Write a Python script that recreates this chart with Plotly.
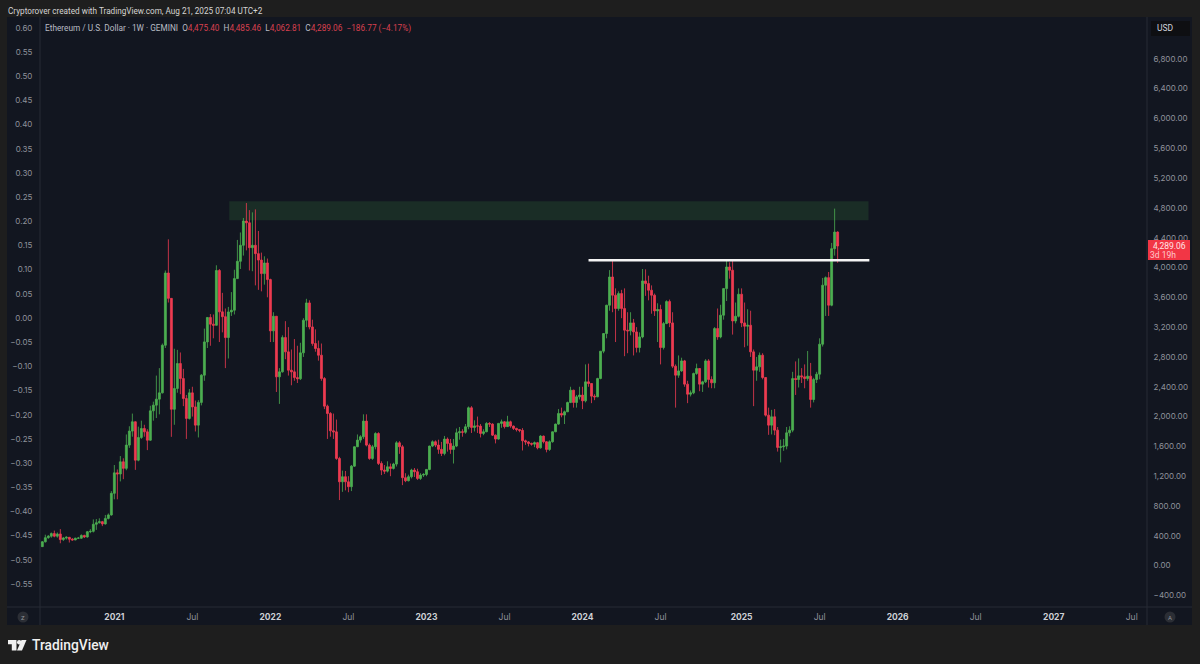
import pandas as pd
import plotly.graph_objects as go

W, H = 1200, 664

opens = [255,320,375,395,430,395,425,350,370,380,
355,345,368,368,405,385,455,460,555,575,
590,560,634,680,970,1245,1230,1393,1305,1617,
1805,1930,1415,1720,1840,1795,1683,2077,2153,2234,
2318,2957,3926,3586,2098,2377,2712,2510,2242,1975,
2318,2130,1885,2190,2555,3002,3330,3240,3225,3960,
3405,3340,3060,3404,3427,3851,4083,4298,4624,4600,
4266,4298,4186,4100,3918,4061,3838,3150,3346,2533,
2600,3060,2868,2622,2600,2523,2507,2855,3292,3525,
3203,2980,2913,2823,2510,2140,2041,1809,1795,1438,
1125,1193,1125,1059,1335,1595,1684,1729,1939,1617,
1438,1595,1773,1371,1282,1268,1326,1304,1362,1648,
1595,1180,1139,1193,1282,1260,1170,1215,1224,1291,
1604,1662,1617,1560,1505,1698,1640,1559,1604,1783,
1796,1790,1863,2118,1854,1875,1872,1774,1796,1908,
1899,1751,1698,1908,1930,1865,1930,1872,1841,1825,
1815,1675,1660,1640,1630,1650,1580,1738,1662,1559,
1662,1796,1899,2042,2020,2064,2189,2354,2189,2265,
2288,2211,2466,2444,2274,2265,2511,2877,3114,3494,
3873,3628,3449,3650,3449,3159,3150,3257,3136,2926,
3069,3820,3784,3695,3628,3418,3436,2926,3248,3543,
3257,2676,2555,2613,2747,2435,2300,2318,2578,2645,
2435,2466,2747,2497,2453,3181,3069,3360,3717,4007,
3963,3283,3346,3641,3257,3212,3225,2868,2622,2667,
2823,2524,2019,1885,1997,1818,1586,1595,1604,1782,
1818,2510,2497,2546,2533,2510,2542,2229,2497,2569,
2971,3762,3864,3494,4253,4475.40]

highs = [330,415,410,445,470,445,490,385,395,385,
370,375,385,420,415,465,490,620,625,635,
600,680,700,1000,1350,1290,1470,1440,1760,1870,
2040,1935,1865,1945,1890,1830,2145,2200,2550,2650,
2980,3960,4378,3590,2910,2895,2860,2640,2290,2370,
2400,2215,2220,2570,3180,3335,3375,3370,4030,3980,
3660,3450,3471,3670,3970,4370,4470,4665,4865,4770,
4740,4780,4490,4200,4150,4120,3850,3400,3350,2650,
3090,3280,3200,2900,3040,2950,2990,3320,3580,3560,
3300,3170,3020,2980,2530,2160,2060,2040,1960,1460,
1275,1270,1200,1350,1600,1760,1750,2030,2030,1640,
1620,1790,1790,1400,1350,1400,1370,1380,1670,1670,
1620,1240,1220,1300,1310,1300,1240,1240,1295,1610,
1680,1680,1690,1660,1740,1720,1700,1700,1840,1860,
1830,1900,2135,2140,1950,2000,1900,1830,1925,1925,
1910,1760,1915,1960,1940,2010,1945,1880,1850,1830,
1845,1690,1670,1650,1665,1660,1750,1745,1670,1680,
1800,1905,2100,2120,2080,2200,2400,2360,2290,2400,
2400,2700,2710,2450,2300,2520,2880,3120,3500,3965,
4090,3720,3680,3700,3720,3400,3400,3310,3200,3130,
3980,3975,3890,3760,3650,3520,3500,3270,3560,3570,
3400,2700,2820,2790,2760,2480,2350,2590,2710,2650,
2480,2770,2770,2540,3200,3450,3500,3720,4100,4070,
4100,3530,3720,3720,3530,3440,3420,2900,2800,2860,
2850,2530,2120,2090,2100,1860,1690,1700,1860,1870,
2600,2740,2780,2650,2700,2880,2720,2520,2600,3050,
3860,3880,3940,4330,4790,4485.46]

lows = [250,310,360,375,380,375,300,330,350,310,
335,340,362,360,370,375,435,445,480,565,
530,550,620,670,890,890,1130,1160,1280,1580,
1730,1285,1400,1700,1730,1550,1675,1945,1980,2030,
2310,2920,3530,1728,1890,2320,2300,2140,1700,1960,
2000,1800,1720,2150,2480,2920,2950,3050,3220,3000,
3130,2650,2779,3350,3370,3880,3980,4160,4230,3960,
3950,3760,3700,3680,3770,3600,3000,3000,2330,2170,
2590,2770,2550,2420,2480,2450,2490,2800,3200,3170,
2950,2870,2750,2480,2100,1700,1730,1700,1420,880,
990,1010,985,1000,1325,1590,1650,1700,1600,1420,
1420,1560,1350,1215,1230,1250,1200,1290,1330,1500,
1080,1120,1130,1170,1190,1150,1150,1190,1200,1280,
1590,1590,1500,1470,1480,1530,1500,1370,1590,1690,
1730,1770,1830,1780,1800,1780,1720,1750,1790,1860,
1740,1640,1690,1850,1840,1860,1850,1820,1800,1790,
1545,1620,1600,1610,1590,1560,1570,1640,1520,1540,
1650,1790,1890,1990,1900,2060,2180,2120,2120,2230,
2100,2190,2400,2180,2220,2260,2500,2850,3050,3420,
3400,3000,3420,3320,2810,2850,3090,2820,2860,2860,
3050,3620,3560,3380,3350,3000,2700,2900,3240,3200,
2650,2120,2520,2600,2400,2180,2270,2300,2560,2340,
2330,2450,2390,2380,2380,3030,3050,3300,3550,3850,
3100,3250,3330,3200,2930,2950,2800,2140,2480,2600,
2500,2000,1755,1760,1750,1530,1385,1540,1560,1735,
1790,2290,2390,2450,2380,2480,2120,2190,2450,2500,
2940,3350,3350,3480,4160,4062.81]

closes = [320,375,395,430,395,425,350,370,380,355,
345,368,368,405,385,455,460,555,575,590,
560,634,680,970,1245,1230,1393,1305,1617,1805,
1930,1415,1720,1840,1795,1683,2077,2153,2234,2318,
2957,3926,3586,2098,2377,2712,2510,2242,1975,2318,
2130,1885,2190,2555,3002,3330,3240,3225,3960,3405,
3340,3060,3404,3427,3851,4083,4298,4624,4600,4266,
4298,4186,4100,3918,4061,3838,3150,3346,2533,2600,
3060,2868,2622,2600,2523,2507,2855,3292,3525,3203,
2980,2913,2823,2510,2140,2041,1809,1795,1438,1125,
1193,1125,1059,1335,1595,1684,1729,1939,1617,1438,
1595,1773,1371,1282,1268,1326,1304,1362,1648,1595,
1180,1139,1193,1282,1260,1170,1215,1224,1291,1604,
1662,1617,1560,1505,1698,1640,1559,1604,1783,1796,
1790,1863,2118,1854,1875,1872,1774,1796,1908,1899,
1751,1698,1908,1930,1865,1930,1872,1841,1825,1815,
1675,1660,1640,1630,1650,1580,1738,1662,1559,1662,
1796,1899,2042,2020,2064,2189,2354,2189,2265,2288,
2211,2466,2444,2274,2265,2511,2877,3114,3494,3873,
3628,3449,3650,3449,3159,3150,3257,3136,2926,3069,
3820,3784,3695,3628,3418,3436,2926,3248,3543,3257,
2676,2555,2613,2747,2435,2300,2318,2578,2645,2435,
2466,2747,2497,2453,3181,3069,3360,3717,4007,3963,
3283,3346,3641,3257,3212,3225,2868,2622,2667,2823,
2524,2019,1885,1997,1818,1586,1595,1604,1782,1818,
2510,2497,2546,2533,2510,2542,2229,2497,2569,2971,
3762,3864,3494,4253,4475.40,4289.06]

first_week = "2020-07-20"

year_ticks = ["2021-01-04","2021-07-05","2022-01-03","2022-07-04","2023-01-02","2023-07-03",
              "2024-01-01","2024-07-01","2025-01-06","2025-07-07","2026-01-05","2026-07-06",
              "2027-01-04","2027-07-05"]
year_labels = ["2021","Jul","2022","Jul","2023","Jul","2024","Jul","2025","Jul","2026","Jul","2027","Jul"]

price_ticks = [-400,0,400,800,1200,1600,2000,2400,2800,3200,3600,4000,4400,4800,5200,5600,6000,6400,6800]
price_labels = ["−400.00","0.00","400.00","800.00","1,200.00","1,600.00","2,000.00","2,400.00","2,800.00",
                "3,200.00","3,600.00","4,000.00","4,400.00","4,800.00","5,200.00","5,600.00","6,000.00",
                "6,400.00","6,800.00"]
left_ticks = [0.60,0.55,0.50,0.45,0.40,0.35,0.30,0.25,0.20,0.15,0.10,0.05,0.00,
              -0.05,-0.10,-0.15,-0.20,-0.25,-0.30,-0.35,-0.40,-0.45,-0.50,-0.55]
left_labels = ["0.60","0.55","0.50","0.45","0.40","0.35","0.30","0.25","0.20","0.15","0.10","0.05","0.00",
               "−0.05","−0.10","−0.15","−0.20","−0.25","−0.30","−0.35","−0.40","−0.45","−0.50","−0.55"]

level_x = ["2024-01-15","2025-10-31"]
level_y = [4097,4097]
zone_x = ["2021-09-29","2025-10-29"]
zone_y = [4633,4888]

OUTER="#1e1e1e"; PANEL="#121620"; LINE="#262a35"; AX="#8f929b"; TXT="#c9ccd3"
GREEN="#4caf50"; RED="#ee3b50"

def px(x): return x/W
def py(y): return 1-y/H

dates = pd.date_range(first_week, periods=len(closes), freq="7D")
fig = go.Figure()
fig.add_trace(go.Candlestick(
    x=dates, open=opens, high=highs, low=lows, close=closes, yaxis="y", xaxis="x",
    whiskerwidth=0,
    increasing=dict(line=dict(color=GREEN,width=0.8),fillcolor=GREEN),
    decreasing=dict(line=dict(color=RED,width=0.8),fillcolor=RED),
    showlegend=False, hoverinfo="skip"))
fig.add_trace(go.Scatter(x=level_x,y=level_y,mode="lines",line=dict(color="#f4f4f4",width=2.4),
    showlegend=False,hoverinfo="skip",yaxis="y",xaxis="x"))
fig.add_trace(go.Scatter(x=[dates[0],dates[-1]],y=[0,0],mode="lines",opacity=0,line=dict(width=0),
    showlegend=False,hoverinfo="skip",yaxis="y2",xaxis="x"))

def rect(x0,y0,x1,y1,fill,layer="below",line=None,**kw):
    return dict(type="rect",xref="paper",yref="paper",x0=px(x0),x1=px(x1),y0=py(y0),y1=py(y1),
                fillcolor=fill,line=dict(width=0) if line is None else line,layer=layer,**kw)
def seg(x0,y0,x1,y1):
    return dict(type="line",xref="paper",yref="paper",x0=px(x0),x1=px(x1),y0=py(y0),y1=py(y1),
                line=dict(color=LINE,width=1),layer="above")
def circ(cx,cy,r,fill):
    return dict(type="circle",xref="paper",yref="paper",x0=px(cx-r),x1=px(cx+r),y0=py(cy-r),y1=py(cy+r),
                fillcolor=fill,line=dict(width=0),layer="above")
def poly(points,fill):
    d="M "+" L ".join(f"{px(a):.5f},{py(b):.5f}" for a,b in points)+" Z"
    return dict(type="path",xref="paper",yref="paper",path=d,fillcolor=fill,line=dict(width=0),layer="above")

shapes=[
    rect(7,17,1192,625,PANEL),
    dict(type="rect",xref="x",yref="y",x0=zone_x[0],x1=zone_x[1],y0=zone_y[0],y1=zone_y[1],
         fillcolor="#1a2d26",line=dict(width=0),layer="below"),
    seg(40,17,40,625), seg(1147,17,1147,625), seg(7,607,1192,607),
    circ(23,617,5.5,"#2b2e35"), circ(1170,617,5.5,"#2b2e35"),
    rect(1151,21,1190,36,"#0e0f12","above"),
    rect(1148,240,1190,260,"#f23645","above"),
    poly([(8,640),(16.5,640),(16.5,650.5),(11.8,650.5),(11.8,644.2),(8,644.2)],"#f0f0f0"),
    circ(19.2,642.2,2.2,"#f0f0f0"),
    poly([(21.5,640),(26.5,640),(22,650.5),(17,650.5)],"#f0f0f0"),
]

def note(x,y,t,size=9,color=TXT,anchor="left",family="Roboto",weight=None):
    f=dict(family=family,size=size,color=color)
    if weight: f["weight"]=weight
    return dict(xref="paper",yref="paper",x=px(x),y=py(y),text=t,showarrow=False,xanchor=anchor,yanchor="middle",
                font=f,borderpad=0)

r=lambda s:f'<span style="color:#d8404f">{s}</span>'
legend=("Ethereum / U.S. Dollar · 1W · GEMINI  O"+r("4,475.40")+"  H"+r("4,485.46")+"  L"+r("4,062.81")+
        "  C"+r("4,289.06")+"  "+r("−186.77 (−4.17%)"))
annotations=[
    note(7,11,"Cryptorover created with TradingView.com, Aug 21, 2025 07:04 UTC+2",size=8.2,color="#d4d4d4"),
    note(44,29,legend,size=8.25,color="#b9bcc4"),
    note(1156,28.5,"USD",size=8.5,color="#d1d4dc"),
    note(1169,245.5,"4,289.06",size=8.5,color="#ffe4e6",anchor="center"),
    note(1163,254.5,"3d 19h",size=8.5,color="#ffc9ce",anchor="center"),
    note(23,617,"Z",size=6,color="#8f929b",anchor="center"),
    note(1170,617,"A",size=6,color="#8f929b",anchor="center"),
    note(31,645,"TradingView",size=13.8,color="#f0f0f0",weight=500),
]

tick_text=[f"<b>{t}</b>" if t!="Jul" else f'<span style="color:{AX}">{t}</span>' for t in year_labels]
fig.update_layout(
    width=W,height=H,margin=dict(l=0,r=0,t=0,b=0,pad=0),autosize=False,
    paper_bgcolor=OUTER,plot_bgcolor=PANEL,dragmode=False,boxgap=0.08,
    font=dict(family="Inter",size=9,color=AX),
    xaxis=dict(domain=[px(40),px(1147)],type="date",range=["2020-07-14 14:00","2027-08-09 14:00"],
               tickmode="array",tickvals=year_ticks,ticktext=tick_text,ticks="outside",ticklen=2,
               tickcolor="rgba(0,0,0,0)",tickfont=dict(size=8.5,color="#cdd0d6",family="Inter"),
               showgrid=False,zeroline=False,showline=False,rangeslider=dict(visible=False),fixedrange=True),
    yaxis=dict(domain=[py(607),py(17)],side="right",anchor="x",range=[-555,7361],tickmode="array",
               tickvals=price_ticks,ticktext=price_labels,ticks="outside",ticklen=4,tickcolor="rgba(0,0,0,0)",
               tickfont=dict(size=8,color=AX,family="Inter"),showgrid=False,zeroline=False,showline=False,fixedrange=True),
    yaxis2=dict(overlaying="y",side="left",anchor="x",range=[-0.5978,0.6227],tickmode="array",
               tickvals=left_ticks,ticktext=left_labels,ticks="outside",ticklen=5,tickcolor="rgba(0,0,0,0)",
               tickfont=dict(size=8,color=AX,family="Inter"),showgrid=False,zeroline=False,showline=False,fixedrange=True),
    shapes=shapes,annotations=annotations,hovermode=False,
)
fig.write_html("out.html",config=dict(displayModeBar=False),post_script="document.body.style.margin='0';")
